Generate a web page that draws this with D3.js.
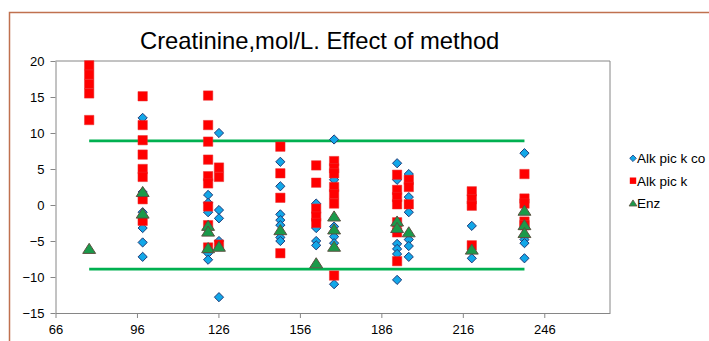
<!DOCTYPE html>
<html>
<head>
<meta charset="utf-8">
<script src="https://cdn.jsdelivr.net/npm/d3@7"></script>
<style>
  body { margin: 0; background: #fff; }
  svg { display: block; font-family: "Liberation Sans", Arial, sans-serif; }
</style>
</head>
<body>
<svg id="chart" width="709" height="341"></svg>
<script>
// sample concentration for each column of points
const colX = [78.4, 98.1, 122.2, 126.2, 148.8, 162, 168.6, 191.8, 196.1, 219.3, 238.7];

// differences per column, one list per column
const alkPicKCo = [
    [],
    [12.1, 1.8, -1.0, -3.2, -5.2, -7.2],
    [1.4, 0.3, -1.0, -6.7, -7.6],
    [10.0, -0.7, -1.85, -5.0, -12.8],
    [6.0, 2.6, -1.3, -2.1, -2.8, -4.5, -5.0],
    [0.2, -3.2, -5.0, -5.6],
    [9.1, 3.5, -3.0, -4.4, -5.3, -11.0],
    [5.8, 3.5, -5.4, -6.1, -6.8, -10.4],
    [4.3, 1.1, -1.0, -4.8, -5.7, -7.2],
    [-2.9, -7.4],
    [7.2, -4.8, -5.3, -7.4]
];
const alkPicK = [
    [19.4, 18.1, 16.8, 15.5, 11.8],
    [15.1, 11.1, 9.0, 7.0, 5.0, 3.9, 0.8, -2.2],
    [15.2, 11.1, 8.8, 6.3, 4.0, 3.0, -0.2, -2.8, -5.9],
    [5.2, 3.9, -5.5],
    [8.1, 4.4, 1.0, -6.7],
    [5.5, 3.1, -0.5, -1.6, -2.5],
    [6.1, 5.1, 4.4, 2.5, 1.5, 0.2, -9.8],
    [4.2, 2.1, 1.1, 0.1, -2.4, -3.8, -7.8],
    [3.5, 2.5, 0.1],
    [1.9, 0.8, -0.1, -5.6],
    [4.3, 0.9, 0.2, -2.3, -2.8]
];
const enz = [
    [-6.1],
    [1.8, -1.2],
    [-2.9, -3.7, -6.0],
    [-5.8],
    [-3.5],
    [-8.1],
    [-1.6, -3.4, -5.8],
    [-2.3, -3.2],
    [-3.8],
    [-6.2],
    [-0.8, -2.8, -3.9]
];

const limits = [8.9, -8.9];
const xTicks = [66, 96, 126, 156, 186, 216, 246];
const yTicks = [-15, -10, -5, 0, 5, 10, 15, 20];
const seriesNames = ["Alk pic k co", "Alk pic k", "Enz"];
const title = "Creatinine,mol/L. Effect of method";

// layout
const m = {left: 55.5, right: 610, top: 61, bottom: 313};
const x = d3.scaleLinear().domain([66, 270.2]).range([m.left, m.right]);
const y = d3.scaleLinear().domain([-15, 20]).range([m.bottom, m.top]);

const svg = d3.select("#chart");

// outer chart border (partly off-screen)
svg.append("path")
    .attr("d", "M9.5,341 V12.5 H709")
    .attr("fill", "none")
    .attr("stroke", "#c0714f")
    .attr("stroke-width", 1.5);

svg.append("text")
    .attr("x", 140)
    .attr("y", 48.5)
    .attr("font-size", "23.8px")
    .attr("fill", "#000")
    .text(title);

// plot frame top / right
svg.append("path")
    .attr("d", `M${m.left},${m.top} H${m.right} V${m.bottom}`)
    .attr("fill", "none")
    .attr("stroke", "#868686")
    .attr("stroke-width", 1);

const xAxis = d3.axisBottom(x).tickValues(xTicks).tickSize(5).tickSizeOuter(0).tickPadding(7);
const yAxis = d3.axisLeft(y).tickValues(yTicks).tickSize(5).tickSizeOuter(0).tickPadding(6);

const gx = svg.append("g").attr("transform", `translate(0,${m.bottom})`).call(xAxis);
const gy = svg.append("g").attr("transform", `translate(${m.left},0)`).call(yAxis);
for (const g of [gx, gy]) {
    g.select(".domain").attr("stroke", "#868686");
    g.selectAll(".tick line").attr("stroke", "#868686");
    g.selectAll(".tick text")
        .attr("fill", "#000")
        .attr("font-size", "13px")
        .attr("font-family", "'Liberation Sans', Arial, sans-serif");
}

// limit lines
svg.selectAll(".limit")
    .data(limits)
    .join("line")
    .attr("class", "limit")
    .attr("x1", x(colX[0]))
    .attr("x2", x(colX[colX.length - 1]))
    .attr("y1", d => y(d))
    .attr("y2", d => y(d))
    .attr("stroke", "#00b050")
    .attr("stroke-width", 2.6);

const flat = arr => arr.flatMap((vals, i) => vals.map(v => ({x: colX[i], y: v})));

// marker shapes
const diamond = (cx, cy, r) => `M${cx},${cy - r}L${cx + r},${cy}L${cx},${cy + r}L${cx - r},${cy}Z`;
const square = (cx, cy, r) => `M${cx - r},${cy - r}H${cx + r}V${cy + r}H${cx - r}Z`;
const triangle = (cx, cy, r) => `M${cx},${cy - r}L${cx + r * 1.15},${cy + r * 0.8}H${cx - r * 1.15}Z`;

svg.selectAll(".s1")
    .data(flat(alkPicKCo))
    .join("path")
    .attr("class", "s1")
    .attr("d", d => diamond(x(d.x), y(d.y), 4.6))
    .attr("fill", "#12a7e8")
    .attr("stroke", "#1f3b78")
    .attr("stroke-width", 1);

svg.selectAll(".s2")
    .data(flat(alkPicK))
    .join("path")
    .attr("class", "s2")
    .attr("d", d => square(x(d.x), y(d.y), 4.7))
    .attr("fill", "#ff0000")
    .attr("stroke", "#e83030")
    .attr("stroke-width", 0.5);

svg.selectAll(".s3")
    .data(flat(enz))
    .join("path")
    .attr("class", "s3")
    .attr("d", d => triangle(x(d.x), y(d.y), 5.6))
    .attr("fill", "#1a9a4a")
    .attr("stroke", "#5b5040")
    .attr("stroke-width", 1);

// legend
const legendY = [158.3, 180.7, 203.3];
const legendMarks = [
    (cx, cy) => diamond(cx, cy, 3.3),
    (cx, cy) => square(cx, cy, 3.2),
    (cx, cy) => triangle(cx, cy, 3.4)
];
const legendFill = ["#12a7e8", "#ff0000", "#1a9a4a"];
const legendStroke = ["#1f3b78", "none", "#5b5040"];

const lg = svg.append("g");
seriesNames.forEach((name, i) => {
    lg.append("path")
        .attr("d", legendMarks[i](633, legendY[i]))
        .attr("fill", legendFill[i])
        .attr("stroke", legendStroke[i])
        .attr("stroke-width", 0.8);
    lg.append("text")
        .attr("x", 637)
        .attr("y", legendY[i] + 4.8)
        .attr("font-size", "13.5px")
        .attr("fill", "#000")
        .text(name);
});
</script>
</body>
</html>
